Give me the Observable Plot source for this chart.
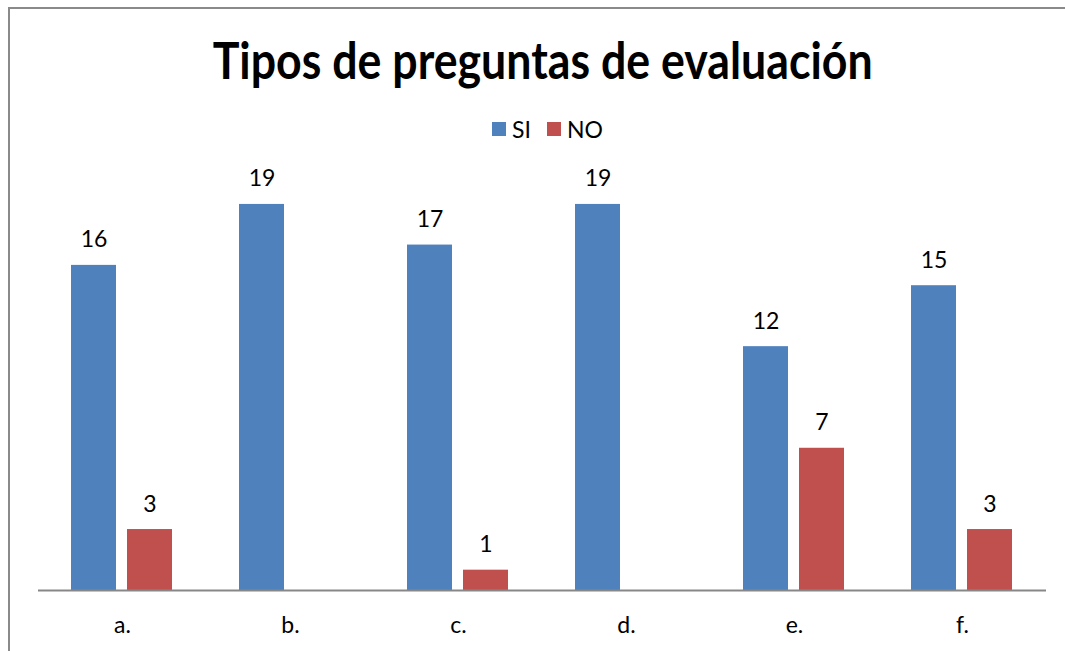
<!DOCTYPE html>
<html>
<head>
<meta charset="utf-8">
<script src="https://cdn.jsdelivr.net/npm/d3@7"></script>
<script src="https://cdn.jsdelivr.net/npm/@observablehq/plot@0.6"></script>
<style>
  html, body { margin: 0; padding: 0; background: #fff; overflow: hidden; }
  body { width: 1065px; height: 651px; position: relative; font-family: Lato, "Open Sans", sans-serif; }
  #frameTop { position: absolute; left: 8px; top: 7px; width: 1057px; height: 2px; background: #8a8a8a; }
  #frameLeft { position: absolute; left: 8px; top: 7px; width: 2px; height: 644px; background: #8a8a8a; }
  #title { position: absolute; left: 21px; width: 1044px; top: 34px; text-align: center; font-weight: 700; font-size: 51px; line-height: 51px; color: #000; white-space: nowrap; }
  #title span { display: inline-block; transform-origin: center; }
  #legend { position: absolute; left: 492px; top: 117px; display: flex; align-items: center; font-size: 23px; line-height: 24px; color: #000; }
  #legend .sw { width: 14px; height: 14px; margin-right: 6px; }
  #legend .item { display: flex; align-items: center; margin-right: 16px; }
  #chart { position: absolute; left: 0; top: 150px; width: 1065px; height: 500px; }
</style>
</head>
<body>
<div id="frameTop"></div>
<div id="frameLeft"></div>
<div id="title"><span>Tipos de preguntas de evaluación</span></div>
<div id="legend"></div>
<div id="chart"></div>
<script>
const categories = ["a.", "b.", "c.", "d.", "e.", "f."];
const seriesNames = ["SI", "NO"];
const siValues = [16, 19, 17, 19, 12, 15];
const noValues = [3, null, 1, null, 7, 3];
const seriesColors = ["#4F81BD", "#C0504D"];

const data = [];
categories.forEach((c, i) => {
  data.push({cat: c, serie: "SI", value: siValues[i]});
  data.push({cat: c, serie: "NO", value: noValues[i]});
});
const shown = data.filter(d => d.value != null && d.value > 0);

// legend
const legend = document.getElementById("legend");
seriesNames.forEach((s, i) => {
  const item = document.createElement("div");
  item.className = "item";
  const sw = document.createElement("div");
  sw.className = "sw";
  sw.style.background = seriesColors[i];
  const t = document.createElement("span");
  t.textContent = s;
  item.appendChild(sw); item.appendChild(t);
  legend.appendChild(item);
});

// title width fit
const tspan = document.querySelector("#title span");
const w = tspan.getBoundingClientRect().width;
tspan.style.transform = `scaleX(${660 / w})`;

const chart = Plot.plot({
  width: 1065,
  height: 500,
  marginLeft: 38,
  marginRight: 19,
  marginTop: 20,
  marginBottom: 60,
  style: {fontFamily: "Lato, 'Open Sans', sans-serif", fontSize: "23px", color: "#000", background: "transparent"},
  fx: {domain: categories, padding: 0, axis: "bottom", tickSize: 0, tickPadding: 26, label: null},
  x: {domain: seriesNames, paddingInner: 0.196, paddingOuter: 0.598, axis: null},
  y: {domain: [0, 20.67], axis: null},
  color: {domain: seriesNames, range: seriesColors},
  marks: [
    Plot.barY(shown, {fx: "cat", x: "serie", y: "value", fill: "serie"}),
    Plot.text(shown, {fx: "cat", x: "serie", y: "value", text: d => String(d.value), lineAnchor: "bottom", dy: -18, fill: "#000", fontSize: 23}),
    Plot.ruleY([0], {stroke: "#878787", strokeWidth: 2})
  ]
});
document.getElementById("chart").appendChild(chart);
</script>
</body>
</html>
